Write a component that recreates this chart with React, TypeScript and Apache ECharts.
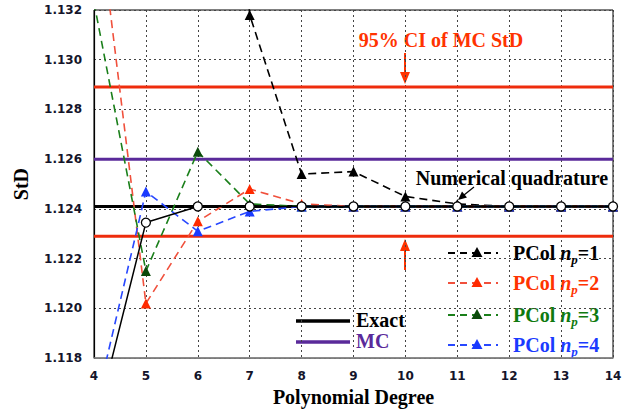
import React, { useEffect, useRef } from "react";
import * as echarts from "echarts";

// ---- data ----
const degrees = [4, 5, 6, 7, 8, 9, 10, 11, 12, 13, 14];
const numericalQuadrature = [1.1151, 1.12345, 1.1241, 1.1241, 1.1241, 1.1241, 1.1241, 1.1241, 1.1241, 1.1241, 1.1241];
const pcolNp1 = [1.17, 1.17, 1.16, 1.1318, 1.1254, 1.1255, 1.1245, 1.1242, 1.1241, 1.1241, 1.1241];
const pcolNp2 = [1.1373, 1.1202, 1.1235, 1.1248, 1.1242, 1.1241, 1.1241, 1.1241, 1.1241, 1.1241, 1.1241];
const pcolNp3 = [1.1323, 1.1215, 1.1263, 1.1242, 1.1241, 1.1241, 1.1241, 1.1241, 1.1241, 1.1241, 1.1241];
const pcolNp4 = [1.1158, 1.1247, 1.1231, 1.1239, 1.1241, 1.1241, 1.1241, 1.1241, 1.1241, 1.1241, 1.1241];
const exactStd = 1.1241;
const mcStd = 1.126;
const ciUpper = 1.1289;
const ciLower = 1.1229;
const xMin = 4;
const xMax = 14;
const yMin = 1.118;
const yMax = 1.132;
const yStep = 0.002;

const serif = "'Liberation Serif', 'Times New Roman', serif";
const bold20 = `bold 20px ${serif}`;

const pair = (arr: number[]) => degrees.map((d, i) => [d, arr[i]]);
const hline = (v: number) => [[xMin, v], [xMax, v]];

export default function App() {
  const ref = useRef<HTMLDivElement>(null);
  useEffect(() => {
    if (!ref.current) return;
    const chart = echarts.init(ref.current, null, { renderer: "svg" });

    const pcol = (name: string, arr: number[], line: string, tri: string) => ({
      name,
      type: "line",
      data: pair(arr),
      symbol: "triangle",
      symbolSize: 10,
      lineStyle: { color: line, width: 1.6, type: [8, 5] },
      itemStyle: { color: tri },
      z: 4,
      clip: true,
    });
    const thick = (name: string, v: number, color: string) => ({
      name,
      type: "line",
      data: hline(v),
      symbol: "none",
      lineStyle: { color, width: 3 },
      z: 2,
    });

    const legendRows = [
      { n: "1", line: "#000", tri: "#000", text: "#000", y: 253 },
      { n: "2", line: "#f0503c", tri: "#ff2a00", text: "#ff3300", y: 283 },
      { n: "3", line: "#1a7f1a", tri: "#0b4a0b", text: "#0f7a0f", y: 315 },
      { n: "4", line: "#2848ff", tri: "#1a3aff", text: "#1a3aff", y: 345 },
    ];
    const legendGraphics: any[] = [];
    legendRows.forEach((r) => {
      legendGraphics.push({
        type: "line",
        shape: { x1: 448, y1: r.y, x2: 498, y2: r.y },
        style: { stroke: r.line, lineWidth: 1.8, lineDash: [7, 5] },
      });
      legendGraphics.push({
        type: "polygon",
        shape: { points: [[477, r.y - 6], [471.5, r.y + 4], [482.5, r.y + 4]] },
        style: { fill: r.tri },
      });
      legendGraphics.push({
        type: "text",
        x: 513,
        y: r.y,
        style: {
          text: `{a|PCol }{i|n}{s|p}{a|=${r.n}}`,
          verticalAlign: "middle",
          rich: {
            a: { font: bold20, fill: r.text, lineHeight: 26 },
            i: { font: `italic ${bold20}`, fill: r.text, lineHeight: 26 },
            s: { font: `italic bold 13px ${serif}`, fill: r.text, lineHeight: 14, verticalAlign: "bottom" },
          },
        },
      });
    });

    chart.setOption({
      animation: false,
      backgroundColor: "#fff",
      grid: { left: 94, right: 19, top: 10, bottom: 51, show: true, borderColor: "#000", borderWidth: 1 },
      xAxis: {
        type: "value",
        min: xMin,
        max: xMax,
        interval: 1,
        name: "Polynomial Degree",
        nameLocation: "middle",
        nameGap: 27,
        nameTextStyle: { fontFamily: serif, fontWeight: "bold", fontSize: 20, color: "#000" },
        axisLine: { lineStyle: { color: "#888", width: 1.5 } },
        axisTick: { show: false },
        axisLabel: { margin: 12, fontFamily: "'DejaVu Sans', Verdana, sans-serif", fontWeight: "bold", fontSize: 12, color: "#14142a" },
        splitLine: { show: true, lineStyle: { color: "#444", width: 1, type: [2, 3] } },
      },
      yAxis: {
        type: "value",
        min: yMin,
        max: yMax,
        interval: yStep,
        name: "StD",
        nameLocation: "middle",
        nameGap: 63,
        nameTextStyle: { fontFamily: serif, fontWeight: "bold", fontSize: 20, color: "#000" },
        axisLine: { show: true, lineStyle: { color: "#000", width: 1.2 } },
        axisTick: { show: false },
        axisLabel: {
          margin: 12,
          fontFamily: "'DejaVu Sans', Verdana, sans-serif",
          fontWeight: "bold",
          fontSize: 12,
          color: "#14142a",
          formatter: (v: number) => v.toFixed(3),
        },
        splitLine: { show: true, lineStyle: { color: "#444", width: 1, type: [2, 3] } },
      },
      series: [
        thick("CI upper", ciUpper, "#ee2c0c"),
        thick("CI lower", ciLower, "#ee2c0c"),
        thick("MC", mcStd, "#5a2a9a"),
        thick("Exact", exactStd, "#000"),
        pcol("PCol np=1", pcolNp1, "#000", "#000"),
        pcol("PCol np=2", pcolNp2, "#f0503c", "#ff2a00"),
        pcol("PCol np=3", pcolNp3, "#1a7f1a", "#0b4a0b"),
        pcol("PCol np=4", pcolNp4, "#2848ff", "#1a3aff"),
        {
          name: "Numerical quadrature",
          type: "line",
          data: pair(numericalQuadrature),
          symbol: "circle",
          symbolSize: 9,
          lineStyle: { color: "#000", width: 1.5 },
          itemStyle: { color: "#fff", borderColor: "#000", borderWidth: 1.3 },
          z: 6,
          clip: true,
        },
      ],
      graphic: [
        {
          type: "text",
          x: 441,
          y: 40,
          style: { text: "95% CI of MC StD", align: "center", verticalAlign: "middle", font: bold20, fill: "#ff3300" },
        },
        { type: "line", shape: { x1: 405, y1: 53, x2: 405, y2: 74 }, style: { stroke: "#ff3300", lineWidth: 2 } },
        { type: "polygon", shape: { points: [[400, 72], [410, 72], [405, 84]] }, style: { fill: "#ff3300" } },
        { type: "line", shape: { x1: 405, y1: 270, x2: 405, y2: 250 }, style: { stroke: "#ff3300", lineWidth: 2 } },
        { type: "polygon", shape: { points: [[400, 251], [410, 251], [405, 239]] }, style: { fill: "#ff3300" } },
        {
          type: "text",
          x: 512,
          y: 178,
          style: { text: "Numerical quadrature", align: "center", verticalAlign: "middle", font: bold20, fill: "#000" },
        },
        { type: "line", shape: { x1: 474, y1: 187, x2: 464, y2: 195 }, style: { stroke: "#000", lineWidth: 1.3 } },
        { type: "polygon", shape: { points: [[458, 200], [462, 191.5], [467, 197.5]] }, style: { fill: "#000" } },
        { type: "line", shape: { x1: 296, y1: 321, x2: 350, y2: 321 }, style: { stroke: "#000", lineWidth: 3.5 } },
        { type: "line", shape: { x1: 296, y1: 342, x2: 350, y2: 342 }, style: { stroke: "#5a2a9a", lineWidth: 3.5 } },
        {
          type: "text",
          x: 356,
          y: 320,
          style: { text: "Exact", verticalAlign: "middle", font: bold20, fill: "#000" },
        },
        {
          type: "text",
          x: 356,
          y: 341,
          style: { text: "MC", verticalAlign: "middle", font: bold20, fill: "#5a2a9a" },
        },
        ...legendGraphics,
      ],
    });
    return () => chart.dispose();
  }, []);
  return <div ref={ref} style={{ width: 632, height: 412, position: "absolute", left: 0, top: 0 }} />;
}
